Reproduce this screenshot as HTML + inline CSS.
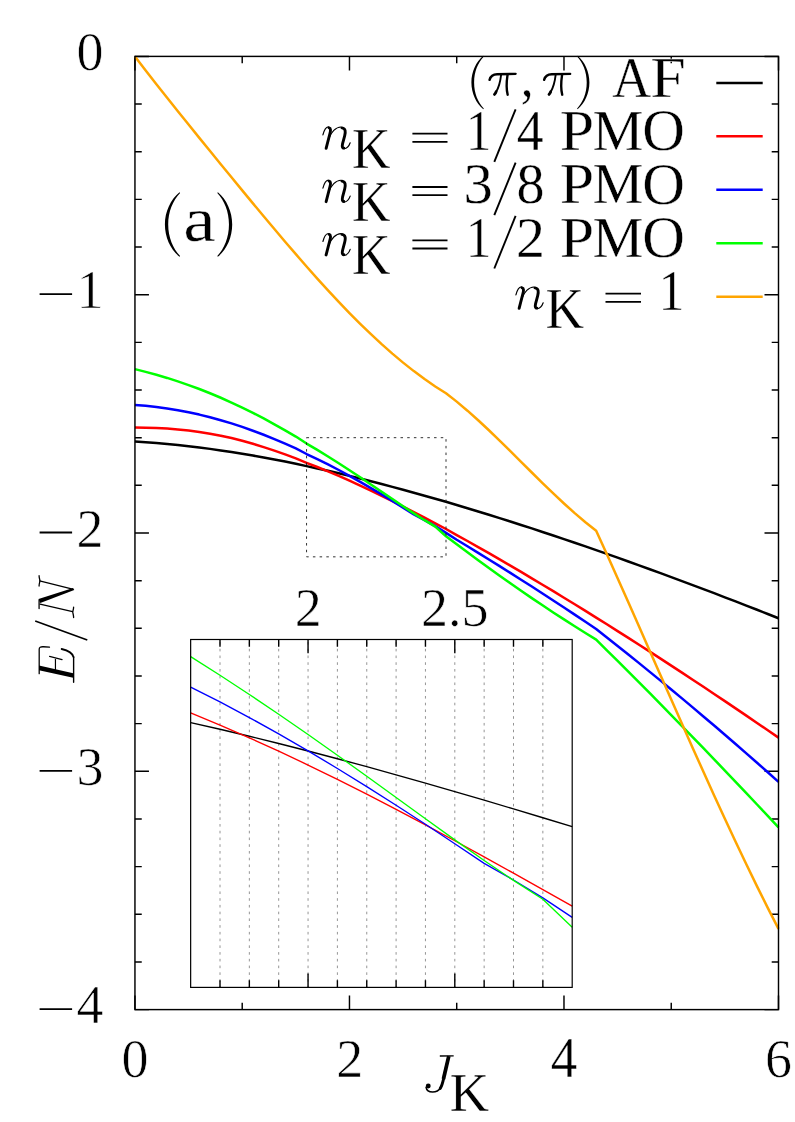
<!DOCTYPE html>
<html><head><meta charset="utf-8"><title>E/N vs J_K</title>
<style>
html,body{margin:0;padding:0;background:#fff;}
body{width:795px;height:1122px;overflow:hidden;}
svg{display:block;}
text{font-family:"Liberation Serif",serif;fill:#000;stroke:#fff;stroke-width:0.6px;}
.i{font-style:italic;}
</style></head><body>
<svg width="795" height="1122" viewBox="0 0 795 1122">
<rect x="0" y="0" width="795" height="1122" fill="#ffffff"/>
<g stroke="#000" stroke-width="1.45" fill="none">
<path d="M134.95,56.40 h14.00 M778.50,56.40 h-14.00"/>
<path d="M134.95,104.06 h6.80 M778.50,104.06 h-6.80"/>
<path d="M134.95,151.72 h6.80 M778.50,151.72 h-6.80"/>
<path d="M134.95,199.38 h6.80 M778.50,199.38 h-6.80"/>
<path d="M134.95,247.04 h6.80 M778.50,247.04 h-6.80"/>
<path d="M134.95,294.70 h14.00 M778.50,294.70 h-14.00"/>
<path d="M134.95,342.36 h6.80 M778.50,342.36 h-6.80"/>
<path d="M134.95,390.02 h6.80 M778.50,390.02 h-6.80"/>
<path d="M134.95,437.68 h6.80 M778.50,437.68 h-6.80"/>
<path d="M134.95,485.34 h6.80 M778.50,485.34 h-6.80"/>
<path d="M134.95,533.00 h14.00 M778.50,533.00 h-14.00"/>
<path d="M134.95,580.66 h6.80 M778.50,580.66 h-6.80"/>
<path d="M134.95,628.32 h6.80 M778.50,628.32 h-6.80"/>
<path d="M134.95,675.98 h6.80 M778.50,675.98 h-6.80"/>
<path d="M134.95,723.64 h6.80 M778.50,723.64 h-6.80"/>
<path d="M134.95,771.30 h14.00 M778.50,771.30 h-14.00"/>
<path d="M134.95,818.96 h6.80 M778.50,818.96 h-6.80"/>
<path d="M134.95,866.62 h6.80 M778.50,866.62 h-6.80"/>
<path d="M134.95,914.28 h6.80 M778.50,914.28 h-6.80"/>
<path d="M134.95,961.94 h6.80 M778.50,961.94 h-6.80"/>
<path d="M134.95,1009.60 h14.00 M778.50,1009.60 h-14.00"/>
<path d="M134.95,1009.60 v-14.00 M134.95,56.40 v14.00"/>
<path d="M242.21,1009.60 v-6.80 M242.21,56.40 v6.80"/>
<path d="M349.47,1009.60 v-14.00 M349.47,56.40 v14.00"/>
<path d="M456.72,1009.60 v-6.80 M456.72,56.40 v6.80"/>
<path d="M563.98,1009.60 v-14.00 M563.98,56.40 v14.00"/>
<path d="M671.24,1009.60 v-6.80 M671.24,56.40 v6.80"/>
<path d="M778.50,1009.60 v-14.00 M778.50,56.40 v14.00"/>
</g>
<g font-size="54">
<text x="76.5" y="70.00">0</text>
<text x="76.5" y="308.30">1</text>
<text x="76.5" y="546.60">2</text>
<text x="76.5" y="784.90">3</text>
<text x="76.5" y="1023.20">4</text>
<path stroke="#000" stroke-width="1.8" d="M39.6,294.20 H72.1 M39.6,532.50 H72.1 M39.6,770.80 H72.1 M39.6,1009.10 H72.1"/>
</g>
<g font-size="54" text-anchor="middle">
<text x="135.10" y="1076.9">0</text>
<text x="349.80" y="1076.9">2</text>
<text x="778.40" y="1076.9">6</text>
</g>
<text transform="matrix(0.5290,0,0,0.5612,550.84,1077.00)" font-size="100" stroke-width="1.10">4</text>
<g transform="translate(415,1045) scale(0.10692)" fill="none" stroke="#000" stroke-linecap="round" stroke-linejoin="round"><path stroke-width="12" stroke-linecap="butt" d="M232,103 L362,101"/><path stroke-width="35" stroke-linecap="butt" d="M316,104 L266,318"/><path stroke-width="27" d="M268,312 C260,350 250,385 236,406"/><path stroke-width="15" d="M240,400 C222,428 195,440 165,440 C134,440 108,424 104,396"/><circle cx="124" cy="384" r="23" fill="#000" stroke="none"/></g>
<text transform="matrix(0.5436,0,0,0.5588,449.67,1111.00)" font-size="100" stroke-width="1.09">K</text>
<g transform="translate(30,570) scale(0.10691)" fill="none" stroke="#000" stroke-linecap="round" stroke-linejoin="round"><path stroke-width="12" d="M90,101 L398,178"/><path stroke-width="12" d="M85,53 C85,78 93,90 93,101 C93,112 85,126 85,150"/><path fill="#000" stroke="none" d="M403,168 L414,186 L96,308 L80,272 Z"/><path stroke-width="12" d="M94,319 L398,390"/><path stroke-width="12" d="M85,280 V360"/><path stroke-width="12" d="M408,347 C408,370 400,382 400,392 C400,404 408,420 408,445"/><path fill="#000" stroke="none" d="M84,893 L84,937 L404,1008 L404,966 Z"/><path stroke-width="12" d="M86,970 V742 C86,724 98,717 124,718 L182,722"/><path stroke-width="13" d="M408,1050 V812"/><path stroke-width="17" d="M407,815 C398,778 352,752 296,739"/><path stroke-width="11" d="M238,952 V836"/><path stroke-width="11" d="M183,808 L300,838"/></g>
<path stroke="#000" stroke-width="1.6" d="M87.3,639.9 L35.2,620.9"/>
<path transform="matrix(0.12277,0,0,0.12529,450.90,37.38)" fill="#000" stroke="none" d="M264,147 C204,196 167,276 167,360 C167,445 204,525 264,574 L268,568 C220,518 189,445 189,360 C189,276 220,203 268,153 Z"/>
<g transform="translate(480.00,60.00) scale(0.12579)" fill="none" stroke="#000" stroke-linecap="round" stroke-linejoin="round"><path stroke-width="19" d="M76,158 C84,128 104,113 136,113 L283,110"/><path stroke-width="15" d="M168,116 C162,170 146,225 126,258"/><path stroke-width="22" d="M128,252 C124,262 120,268 115,274"/><path stroke-width="19" d="M219,116 C211,170 208,230 220,276"/></g>
<text transform="matrix(0.5133,0,0,0.5765,520.78,96.41)" font-size="100" stroke-width="1.10">,</text>
<g transform="translate(534.55,60.00) scale(0.12579)" fill="none" stroke="#000" stroke-linecap="round" stroke-linejoin="round"><path stroke-width="19" d="M76,158 C84,128 104,113 136,113 L283,110"/><path stroke-width="15" d="M168,116 C162,170 146,225 126,258"/><path stroke-width="22" d="M128,252 C124,262 120,268 115,274"/><path stroke-width="19" d="M219,116 C211,170 208,230 220,276"/></g>
<path transform="matrix(-0.12178,0,0,0.12529,609.74,37.38)" fill="#000" stroke="none" d="M264,147 C204,196 167,276 167,360 C167,445 204,525 264,574 L268,568 C220,518 189,445 189,360 C189,276 220,203 268,153 Z"/>
<text transform="matrix(0.5376,0,0,0.5788,612.26,96.70)" font-size="100" stroke-width="1.08">A</text>
<text transform="matrix(0.6388,0,0,0.5634,650.18,96.70)" font-size="100" stroke-width="1.00">F</text>
<g transform="translate(315.00,115.00) scale(0.10692)" fill="none" stroke="#000" stroke-linecap="round" stroke-linejoin="round"><path stroke-width="11" d="M74,186 C86,140 100,113 124,111"/><path stroke-width="27" d="M132,120 C150,124 146,150 140,172 L104,312"/><path stroke-width="11" d="M128,222 C150,160 195,112 243,112"/><path stroke-width="27" d="M252,120 C288,124 286,160 278,192 L258,268 C252,296 256,310 270,310"/><path stroke-width="11" d="M272,316 C298,314 318,292 329,260"/></g>
<text transform="matrix(0.5333,0,0,0.5634,352.00,167.70)" font-size="100" stroke-width="1.09">K</text>
<text transform="matrix(0.5050,0,0,0.5682,465.88,149.90)" font-size="100" stroke-width="1.12">1</text>
<text transform="matrix(0.5355,0,0,0.5703,516.63,149.90)" font-size="100" stroke-width="1.09">4</text>
<path stroke="#000" stroke-width="1.9" d="M494.3,161.90 L515.6,109.30"/>
<text transform="matrix(0.6186,0,0,0.5649,559.84,149.90)" font-size="100" stroke-width="1.02">P</text>
<text transform="matrix(0.5723,0,0,0.5649,592.38,149.90)" font-size="100" stroke-width="1.06">M</text>
<text transform="matrix(0.5906,0,0,0.5844,642.34,150.42)" font-size="100" stroke-width="1.02">O</text>
<g transform="translate(315.00,168.30) scale(0.10692)" fill="none" stroke="#000" stroke-linecap="round" stroke-linejoin="round"><path stroke-width="11" d="M74,186 C86,140 100,113 124,111"/><path stroke-width="27" d="M132,120 C150,124 146,150 140,172 L104,312"/><path stroke-width="11" d="M128,222 C150,160 195,112 243,112"/><path stroke-width="27" d="M252,120 C288,124 286,160 278,192 L258,268 C252,296 256,310 270,310"/><path stroke-width="11" d="M272,316 C298,314 318,292 329,260"/></g>
<text transform="matrix(0.5333,0,0,0.5634,352.00,221.00)" font-size="100" stroke-width="1.09">K</text>
<text transform="matrix(0.5867,0,0,0.5740,463.51,203.33)" font-size="100" stroke-width="1.03">3</text>
<text transform="matrix(0.5600,0,0,0.5719,516.50,203.33)" font-size="100" stroke-width="1.06">8</text>
<path stroke="#000" stroke-width="1.9" d="M494.3,215.20 L515.6,162.60"/>
<text transform="matrix(0.6186,0,0,0.5649,559.84,203.20)" font-size="100" stroke-width="1.02">P</text>
<text transform="matrix(0.5723,0,0,0.5649,592.38,203.20)" font-size="100" stroke-width="1.06">M</text>
<text transform="matrix(0.5906,0,0,0.5844,642.34,203.72)" font-size="100" stroke-width="1.02">O</text>
<g transform="translate(315.00,221.60) scale(0.10692)" fill="none" stroke="#000" stroke-linecap="round" stroke-linejoin="round"><path stroke-width="11" d="M74,186 C86,140 100,113 124,111"/><path stroke-width="27" d="M132,120 C150,124 146,150 140,172 L104,312"/><path stroke-width="11" d="M128,222 C150,160 195,112 243,112"/><path stroke-width="27" d="M252,120 C288,124 286,160 278,192 L258,268 C252,296 256,310 270,310"/><path stroke-width="11" d="M272,316 C298,314 318,292 329,260"/></g>
<text transform="matrix(0.5333,0,0,0.5634,352.00,274.30)" font-size="100" stroke-width="1.09">K</text>
<text transform="matrix(0.5050,0,0,0.5682,465.88,256.50)" font-size="100" stroke-width="1.12">1</text>
<text transform="matrix(0.5800,0,0,0.5721,515.99,256.50)" font-size="100" stroke-width="1.04">2</text>
<path stroke="#000" stroke-width="1.9" d="M494.3,268.50 L515.6,215.90"/>
<text transform="matrix(0.6186,0,0,0.5649,559.84,256.50)" font-size="100" stroke-width="1.02">P</text>
<text transform="matrix(0.5723,0,0,0.5649,592.38,256.50)" font-size="100" stroke-width="1.06">M</text>
<text transform="matrix(0.5906,0,0,0.5844,642.34,257.02)" font-size="100" stroke-width="1.02">O</text>
<g transform="translate(508.00,275.00) scale(0.10692)" fill="none" stroke="#000" stroke-linecap="round" stroke-linejoin="round"><path stroke-width="11" d="M74,186 C86,140 100,113 124,111"/><path stroke-width="27" d="M132,120 C150,124 146,150 140,172 L104,312"/><path stroke-width="11" d="M128,222 C150,160 195,112 243,112"/><path stroke-width="27" d="M252,120 C288,124 286,160 278,192 L258,268 C252,296 256,310 270,310"/><path stroke-width="11" d="M272,316 C298,314 318,292 329,260"/></g>
<text transform="matrix(0.5333,0,0,0.5634,545.50,327.70)" font-size="100" stroke-width="1.09">K</text>
<text transform="matrix(0.5163,0,0,0.5682,658.38,309.90)" font-size="100" stroke-width="1.11">1</text>
<path stroke="#000" stroke-width="1.8" d="M412.4,133.70 H447.5 M412.4,141.90 H447.5 M412.4,187.00 H447.5 M412.4,195.20 H447.5 M412.4,240.30 H447.5 M412.4,248.50 H447.5 M605.5,293.70 H641 M605.5,301.90 H641"/>
<path transform="matrix(0.15050,0,0,0.15129,139.77,169.96)" fill="#000" stroke="none" d="M264,147 C204,196 167,276 167,360 C167,445 204,525 264,574 L268,568 C220,518 189,445 189,360 C189,276 220,203 268,153 Z"/>
<text transform="matrix(0.7316,0,0,0.6396,183.14,240.56)" font-size="100" stroke-width="0.88">a</text>
<path transform="matrix(-0.14752,0,0,0.15129,256.84,169.96)" fill="#000" stroke="none" d="M264,147 C204,196 167,276 167,360 C167,445 204,525 264,574 L268,568 C220,518 189,445 189,360 C189,276 220,203 268,153 Z"/>
<g font-size="54" text-anchor="middle">
<text x="308.2" y="626">2</text>
<text x="454.7" y="626">2.5</text>
</g>
<g fill="none" stroke-width="2.5" stroke-linejoin="round" stroke-linecap="butt">
<path stroke="#000000" d="M134.95,441.59 L145.68,442.25 L156.40,443.05 L167.13,443.97 L177.85,445.01 L188.58,446.18 L199.30,447.47 L210.03,448.87 L220.76,450.39 L231.48,452.01 L242.21,453.73 L252.93,455.56 L263.66,457.48 L274.39,459.50 L285.11,461.60 L295.84,463.79 L306.56,466.13 L317.29,468.42 L328.01,470.81 L338.74,473.30 L349.47,475.87 L360.19,478.52 L370.92,481.24 L381.64,484.02 L392.37,486.87 L403.10,489.77 L413.82,492.72 L424.55,495.70 L435.27,498.72 L446.00,501.77 L456.72,504.98 L467.45,508.19 L478.18,511.44 L488.90,514.75 L499.63,518.10 L510.35,521.50 L521.08,524.94 L531.81,528.43 L542.53,531.95 L553.26,535.52 L563.98,539.12 L574.71,542.76 L585.43,546.44 L596.16,550.15 L606.89,553.90 L617.61,557.68 L628.34,561.50 L639.06,565.35 L649.79,569.23 L660.52,573.15 L671.24,577.10 L681.97,581.08 L692.69,585.09 L703.42,589.13 L714.14,593.20 L724.87,597.30 L735.60,601.43 L746.32,605.59 L757.05,609.78 L767.77,613.99 L778.50,618.23"/>
<path stroke="#ff0000" d="M134.95,427.50 L145.68,427.66 L156.40,428.02 L167.13,428.61 L177.85,429.45 L188.58,430.56 L199.30,431.95 L210.03,433.66 L220.76,435.69 L231.48,438.08 L242.21,440.79 L252.93,443.80 L263.66,447.10 L274.39,450.65 L285.11,454.43 L295.84,458.41 L306.56,462.82 L317.29,466.97 L328.01,471.35 L338.74,475.92 L349.47,480.67 L360.19,485.59 L370.92,490.66 L381.64,495.87 L392.37,501.19 L403.10,506.61 L413.82,512.12 L424.55,517.70 L435.27,523.34 L446.00,529.01 L456.72,535.05 L467.45,541.03 L478.18,547.08 L488.90,553.20 L499.63,559.39 L510.35,565.63 L521.08,571.94 L531.81,578.30 L542.53,584.71 L553.26,591.18 L563.98,597.70 L574.71,604.28 L585.43,610.90 L596.16,617.58 L606.89,624.30 L617.61,631.07 L628.34,637.89 L639.06,644.75 L649.79,651.66 L660.52,658.61 L671.24,665.60 L681.97,672.63 L692.69,679.71 L703.42,686.82 L714.14,693.97 L724.87,701.16 L735.60,708.38 L746.32,715.64 L757.05,722.93 L767.77,730.25 L778.50,737.61"/>
<path stroke="#0000ff" d="M134.95,404.88 L145.68,405.76 L156.40,406.93 L167.13,408.40 L177.85,410.17 L188.58,412.23 L199.30,414.59 L210.03,417.24 L220.76,420.18 L231.48,423.40 L242.21,426.91 L252.93,430.70 L263.66,434.76 L274.39,439.08 L285.11,443.65 L295.84,448.47 L306.56,454.01 L317.29,459.08 L328.01,464.41 L338.74,470.00 L349.47,475.82 L360.19,481.85 L370.92,488.06 L381.64,494.44 L392.37,500.97 L403.10,507.61 L413.82,514.36 L424.55,520.05 L435.27,526.18 L446.00,532.86 L456.72,539.72 L467.45,546.23 L478.18,552.81 L488.90,559.44 L499.63,566.13 L510.35,572.88 L521.08,579.69 L531.81,586.56 L542.53,593.48 L553.26,600.47 L563.98,607.52 L574.71,614.62 L585.43,621.79 L596.16,629.01 L606.89,637.44 L617.61,645.94 L628.34,654.50 L639.06,663.14 L649.79,671.85 L660.52,680.63 L671.24,689.47 L681.97,698.39 L692.69,707.38 L703.42,716.44 L714.14,725.57 L724.87,734.77 L735.60,744.03 L746.32,753.37 L757.05,762.78 L767.77,772.26 L778.50,781.81"/>
<path stroke="#00ff00" d="M134.95,369.15 L145.68,371.84 L156.40,374.76 L167.13,377.93 L177.85,381.37 L188.58,385.06 L199.30,389.02 L210.03,393.26 L220.76,397.77 L231.48,402.55 L242.21,407.60 L252.93,412.91 L263.66,418.48 L274.39,424.28 L285.11,430.32 L295.84,436.57 L306.56,443.56 L317.29,449.93 L328.01,456.50 L338.74,463.27 L349.47,470.22 L360.19,477.32 L370.92,484.53 L381.64,491.81 L392.37,499.09 L403.10,506.31 L413.82,513.37 L424.55,520.19 L435.27,526.65 L446.00,536.21 L456.72,544.35 L467.45,552.37 L478.18,560.28 L488.90,568.07 L499.63,575.75 L510.35,583.31 L521.08,590.76 L531.81,598.10 L542.53,605.32 L553.26,612.42 L563.98,619.41 L574.71,626.28 L585.43,633.04 L596.16,639.68 L606.89,650.29 L617.61,660.94 L628.34,671.66 L639.06,682.42 L649.79,693.24 L660.52,704.12 L671.24,715.05 L681.97,726.04 L692.69,737.08 L703.42,748.18 L714.14,759.33 L724.87,770.54 L735.60,781.80 L746.32,793.12 L757.05,804.49 L767.77,815.92 L778.50,827.40"/>
<path stroke="#ffa500" d="M134.95,56.43 L145.68,70.44 L156.40,84.21 L167.13,97.79 L177.85,111.24 L188.58,124.59 L199.30,137.86 L210.03,151.07 L220.76,164.22 L231.48,177.33 L242.21,190.37 L252.93,203.35 L263.66,216.25 L274.39,229.03 L285.11,241.69 L295.84,254.18 L306.56,266.48 L317.29,278.55 L328.01,290.35 L338.74,301.86 L349.47,313.03 L360.19,323.83 L370.92,334.22 L381.64,344.17 L392.37,353.65 L403.10,362.64 L413.82,371.11 L424.55,379.04 L435.27,386.43 L446.00,393.26 L456.72,401.64 L467.45,410.68 L478.18,420.25 L488.90,430.26 L499.63,440.60 L510.35,451.15 L521.08,461.82 L531.81,472.49 L542.53,483.07 L553.26,493.43 L563.98,503.48 L574.71,513.11 L585.43,522.21 L596.16,530.68 L606.89,554.33 L617.61,578.23 L628.34,602.33 L639.06,626.57 L649.79,650.89 L660.52,675.24 L671.24,699.56 L681.97,723.79 L692.69,747.89 L703.42,771.79 L714.14,795.43 L724.87,818.77 L735.60,841.74 L746.32,864.29 L757.05,886.36 L767.77,907.89 L778.50,928.84"/>
</g>
<g fill="none" stroke-width="2.5">
<path stroke="#000000" d="M716.3,82.90 H762.7"/>
<path stroke="#ff0000" d="M716.3,136.35 H762.7"/>
<path stroke="#0000ff" d="M716.3,189.80 H762.7"/>
<path stroke="#00ff00" d="M716.3,243.25 H762.7"/>
<path stroke="#ffa500" d="M716.3,296.70 H762.7"/>
</g>
<rect x="306.56" y="437.68" width="139.44" height="119.15" fill="none" stroke="#1a1a1a" stroke-width="0.9" stroke-dasharray="2.5,4.21"/>
<rect x="134.95" y="56.40" width="643.55" height="953.20" fill="none" stroke="#000" stroke-width="1.45"/>
<rect x="190.65" y="639.50" width="381.55" height="347.90" fill="#fff" stroke="none"/>
<g stroke="#707070" stroke-width="0.75" stroke-dasharray="2.6,4.14" stroke-dashoffset="1" fill="none">
<path d="M220.00,987.40 V639.50"/>
<path d="M249.35,987.40 V639.50"/>
<path d="M278.70,987.40 V639.50"/>
<path d="M308.05,987.40 V639.50"/>
<path d="M337.40,987.40 V639.50"/>
<path d="M366.75,987.40 V639.50"/>
<path d="M396.10,987.40 V639.50"/>
<path d="M425.45,987.40 V639.50"/>
<path d="M454.80,987.40 V639.50"/>
<path d="M484.15,987.40 V639.50"/>
<path d="M513.50,987.40 V639.50"/>
<path d="M542.85,987.40 V639.50"/>
</g>
<g stroke="#000" stroke-width="1.40" fill="none">
<path d="M220.00,987.40 v-7.20 M220.00,639.50 v7.20"/>
<path d="M249.35,987.40 v-7.20 M249.35,639.50 v7.20"/>
<path d="M278.70,987.40 v-7.20 M278.70,639.50 v7.20"/>
<path d="M308.05,987.40 v-13.80 M308.05,639.50 v13.80"/>
<path d="M337.40,987.40 v-7.20 M337.40,639.50 v7.20"/>
<path d="M366.75,987.40 v-7.20 M366.75,639.50 v7.20"/>
<path d="M396.10,987.40 v-7.20 M396.10,639.50 v7.20"/>
<path d="M425.45,987.40 v-7.20 M425.45,639.50 v7.20"/>
<path d="M454.80,987.40 v-13.80 M454.80,639.50 v13.80"/>
<path d="M484.15,987.40 v-7.20 M484.15,639.50 v7.20"/>
<path d="M513.50,987.40 v-7.20 M513.50,639.50 v7.20"/>
<path d="M542.85,987.40 v-7.20 M542.85,639.50 v7.20"/>
</g>
<g fill="none" stroke-width="1.35" stroke-linejoin="round">
<path stroke="#000000" d="M190.65,722.56 L190.65,722.56 L220.00,729.26 L249.35,736.25 L278.70,743.50 L308.05,751.00 L337.40,758.73 L366.75,766.68 L396.10,774.81 L425.45,783.12 L454.80,791.59 L484.15,800.20 L513.50,808.92 L542.85,817.74 L572.20,826.64 L572.20,826.64"/>
<path stroke="#ff0000" d="M190.65,712.89 L190.65,712.89 L220.00,725.03 L249.35,737.80 L278.70,751.15 L308.05,765.03 L337.40,779.39 L366.75,794.20 L396.10,809.40 L425.45,824.94 L454.80,840.78 L484.15,856.87 L513.50,873.16 L542.85,889.61 L572.20,906.16 L572.20,906.16"/>
<path stroke="#0000ff" d="M190.65,687.19 L190.65,687.19 L220.00,701.97 L249.35,717.55 L278.70,733.87 L308.05,750.86 L337.40,768.46 L366.75,786.60 L396.10,805.23 L425.45,824.28 L454.80,843.69 L484.15,863.40 L513.50,880.00 L542.85,897.90 L572.20,917.40 L572.20,917.40"/>
<path stroke="#00ff00" d="M190.65,656.67 L190.65,656.67 L220.00,675.27 L249.35,694.46 L278.70,714.22 L308.05,734.50 L337.40,755.23 L366.75,776.30 L396.10,797.55 L425.45,818.81 L454.80,839.88 L484.15,860.50 L513.50,880.41 L542.85,899.29 L572.20,927.20 L572.20,927.20"/>
</g>
<rect x="190.65" y="639.50" width="381.55" height="347.90" fill="none" stroke="#000" stroke-width="1.20"/>
</svg>
</body></html>
